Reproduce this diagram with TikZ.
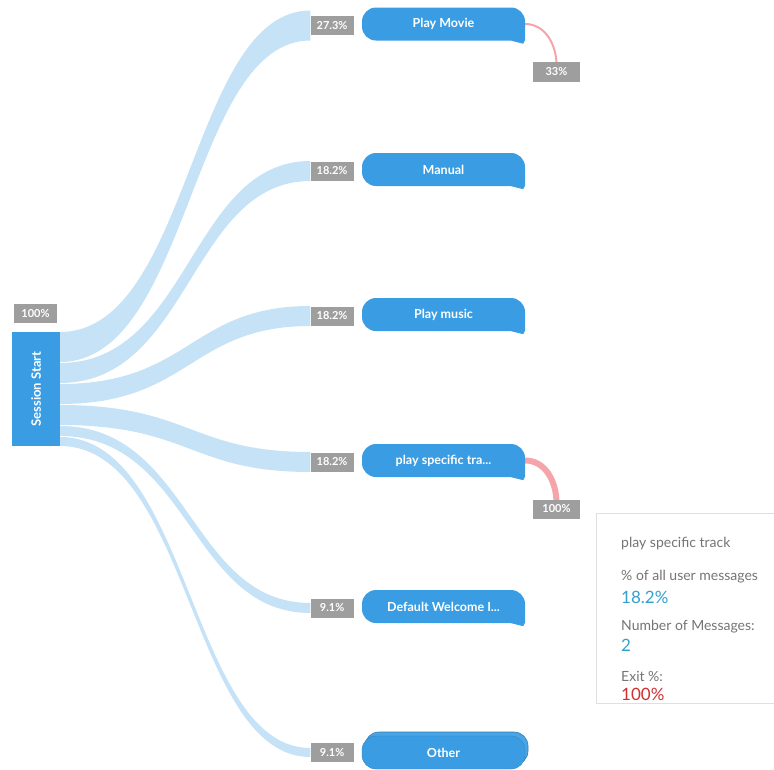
\documentclass[tikz,border=0pt]{standalone}
\usepackage{fontspec}
\setmainfont{Lato}
\usetikzlibrary{calc,positioning,backgrounds}

\definecolor{bubble}{RGB}{58,157,227}
\definecolor{flow}{RGB}{197,226,246}
\definecolor{pct}{RGB}{158,158,158}
\definecolor{exitc}{RGB}{245,165,170}
\definecolor{tipblue}{RGB}{52,160,205}
\definecolor{tipred}{RGB}{211,47,47}
\definecolor{tipgray}{RGB}{117,117,117}

\begin{document}
\begin{tikzpicture}[x=1pt,y=-1pt,
bubblebox/.style={fill=bubble,rounded corners=14pt,minimum width=163pt,minimum height=33pt,
  inner sep=0pt,text=white,font=\bfseries\fontsize{12.5}{14}\selectfont},
pctbox/.style={fill=pct,minimum width=43pt,minimum height=19pt,inner sep=0pt,
  text=white,font=\bfseries\fontsize{11}{12}\selectfont},
band/.style={fill=flow},
exitline/.style={draw=exitc,line cap=round},
tiptext/.style={anchor=west,inner sep=0pt,text=tipgray,font=\fontsize{14}{16}\selectfont},
tipvalue/.style={anchor=west,inner sep=0pt,font=\fontsize{17}{19}\selectfont}]
\useasboundingbox (0,0) rectangle (774,769);

% start
\node[fill=bubble,rotate=90,minimum width=114pt,minimum height=48pt,inner sep=0pt,
  text=white,font=\bfseries\fontsize{13}{15}\selectfont] (ss) at (36,389) {Session Start};
\node[pctbox] (lss) at (35.5,313.5) {100\%};

% intents
\node[bubblebox] (pm) at (443.5,24) {Play Movie};
\node[bubblebox] (man) at (443.5,169.5) {Manual};
\node[bubblebox] (mus) at (443.5,314.5) {Play music};
\node[bubblebox] (spec) at (443.5,460.5) {play specific tra...};
\node[bubblebox] (dwi) at (443.5,606.5) {Default Welcome I...};
\begin{scope}[on background layer]
\node[bubblebox,fill=bubble!92!white,draw=bubble!80!black,line width=0.6pt] (othb) at (446.5,748.5) {};
\end{scope}
\node[bubblebox,draw=bubble!85!black,line width=0.4pt] (oth) at (443.5,752.5) {Other};
\foreach \n in {pm,man,mus,spec,dwi}
  \fill[bubble] ([xshift=-14pt]\n.south east) -- ([xshift=-2pt,yshift=-3pt]\n.south east)
    -- ([yshift=1pt]\n.south east) -- ([yshift=14pt]\n.south east) -- cycle;

\node[pctbox,left=8pt of pm,yshift=-1.5pt] (lpm) {27.3\%};
\node[pctbox,left=8pt of man,yshift=-1.5pt] (lman) {18.2\%};
\node[pctbox,left=8pt of mus,yshift=-1.5pt] (lmus) {18.2\%};
\node[pctbox,left=8pt of spec,yshift=-1.5pt] (lspec) {18.2\%};
\node[pctbox,left=8pt of dwi,yshift=-1.5pt] (ldwi) {9.1\%};
\node[pctbox,left=8pt of oth] (loth) {9.1\%};

% flows
\begin{pgfonlayer}{background}
\foreach \t/\sy/\w in {pm/332/30,man/363/20,mus/384/20,spec/405/20,dwi/426/10,oth/437/9}{
  \path ($(l\t.west)+(0,-\w/2)$) coordinate (bt);
  \fill[band] (60,\sy) .. controls (190,\sy) and ($(bt)+(-120,0)$) .. (bt)
    -- ($(bt)+(0,\w)$) .. controls ($(bt)+(-120,\w)$) and (190,\sy+\w) .. (60,\sy+\w) -- cycle;
}
% exits
\draw[exitline,line width=2pt] (pm.east) to[out=0,in=90] (556.5,65);
\draw[exitline,line width=6pt] (spec.east) to[out=0,in=90] (556.5,503);
\end{pgfonlayer}
\node[pctbox,minimum width=47pt,minimum height=20pt] (e1) at (556.5,72) {33\%};
\node[pctbox,minimum width=47pt] (e2) at (556.5,509) {100\%};

% tooltip
\node[draw=black!12,fill=white,anchor=north west,minimum width=200pt,minimum height=190pt] (tip) at (596,513) {};
\node[tiptext] (t1) at (621,544) {play specific track};
\node[tiptext] (t2) at (621,577) {\% of all user messages};
\node[tipvalue,text=tipblue] (v2) at (621,597) {18.2\%};
\node[tiptext] (t3) at (621,627) {Number of Messages:};
\node[tipvalue,text=tipblue] (v3) at (621,645) {2};
\node[tiptext] (t4) at (621,676) {Exit \%:};
\node[tipvalue,text=tipred] (v4) at (621,694) {100\%};
\end{tikzpicture}
\end{document}
